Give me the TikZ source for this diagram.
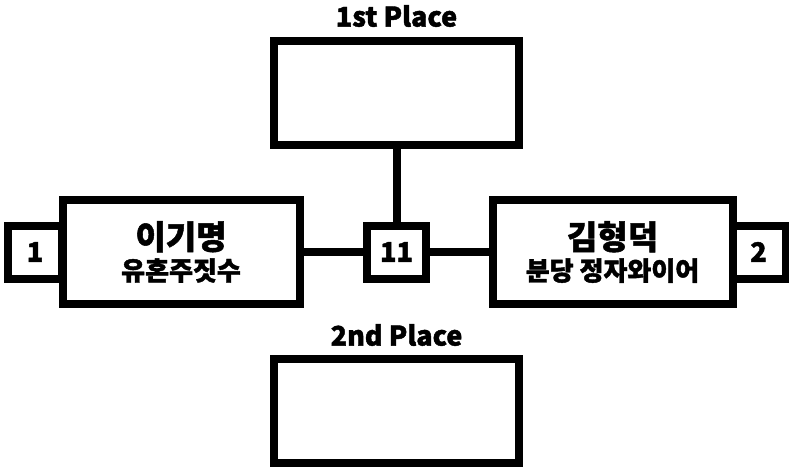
\documentclass[tikz,border=0pt]{standalone}
\usepackage{fontspec}
\setmainfont{Noto Sans CJK KR}[BoldFeatures={FakeBold=1.5}]
\tikzset{
  frame/.style={draw, line width=8pt, inner sep=0pt, fill=white},
  bigbox/.style={frame, minimum width=240pt, minimum height=104pt, align=center, font=\bfseries},
  seedbox/.style={frame, minimum width=54pt, minimum height=53pt, font=\bfseries\fontsize{27}{27}\selectfont},
  wire/.style={line width=8pt},
  place/.style={font=\bfseries\fontsize{27}{27}\selectfont},
}
\newcommand{\playername}[2]{{\fontsize{33}{33}\selectfont #1}\\[5pt]{\fontsize{26}{26}\selectfont #2}}
\begin{document}
\begin{tikzpicture}[x=1pt,y=-1pt]
        \useasboundingbox (0,0) rectangle (789,468);

        \node[bigbox, minimum width=245pt] (first) at (396.5,93) {};
        \node[place] (firstlabel) at (396.5,16) {1st Place};
        \node[bigbox, minimum width=245pt] (second) at (396.5,411) {};
        \node[place] (secondlabel) at (396.5,335) {2nd Place};

        \node[seedbox] (seedA) at (35,252) {1};
        \node[seedbox] (seedB) at (758.5,252) {2};
        \node[bigbox, minimum width=237pt] (playerA) at (181,252) {\playername{이기명}{유혼주짓수}};
        \node[bigbox] (playerB) at (612.5,252) {\playername{김형덕}{분당 정자와이어}};
        \node[seedbox, minimum width=59pt] (score) at (396.5,252) {11};

        \draw[wire] (playerA.east) -- (score.west);
        \draw[wire] (score.east) -- (playerB.west);
        \draw[wire] (score.north) -- (first.south);
    \end{tikzpicture}
\end{document}
